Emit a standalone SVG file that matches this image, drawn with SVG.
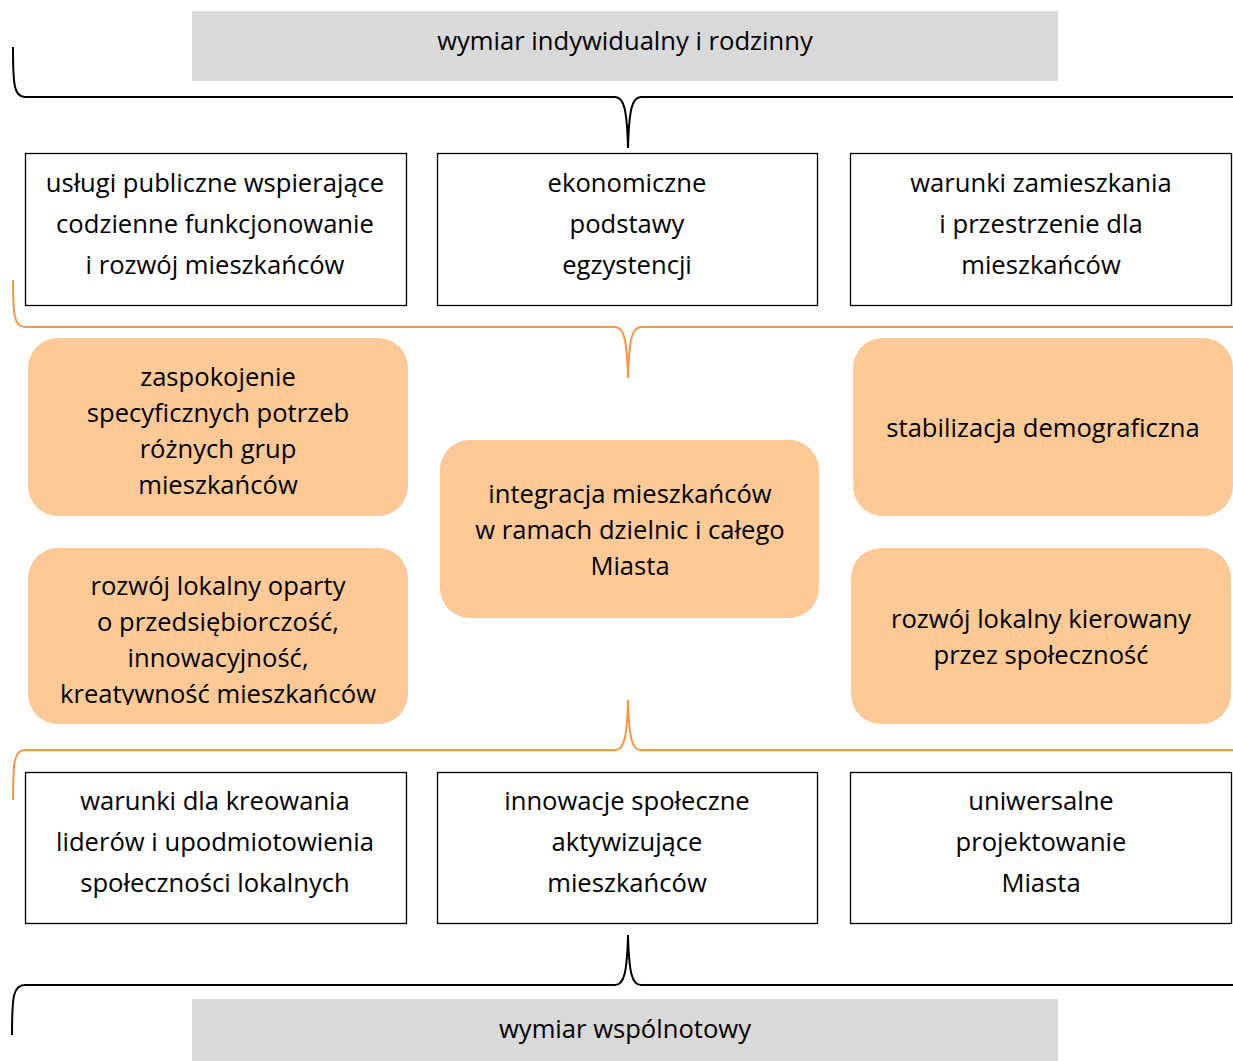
<svg xmlns="http://www.w3.org/2000/svg" width="1233" height="1061" viewBox="0 0 1233 1061">
<style>
.t{font-family:"Open Sans","Liberation Sans",Arial,sans-serif;font-size:25.6px;fill:#000;text-anchor:middle}
.box{fill:#fff;stroke:#000;stroke-width:1.3}
.gray{fill:#d9d9d9}
.org{fill:#fdca97}
.bk{fill:none;stroke:#000;stroke-width:2}
.bo{fill:none;stroke:#f79646;stroke-width:2}
</style>
<defs>
<clipPath id="clipB"><rect x="28" y="548" width="380" height="157"/></clipPath>
</defs>
<g id="connectors">
<path class="bk" d="M13,47 C13,85 14,97 25,97 L615,97 C624,97 627,110 628,148 C629,110 632,97 641,97 L1233,97"/>
<path class="bo" d="M13,280 C13,315 14,327 25,327 L615,327 C624,327 627,340 628,378 C629,340 632,327 641,327 L1233,327"/>
<path class="bo" d="M13,800 C13,762 14,750 25,750 L615,750 C624,750 627,738 628,700 C629,738 632,750 641,750 L1233,750"/>
<path class="bk" d="M12,1035 C12,997 13,985 25,985 L615,985 C624,985 627,973 628,935 C629,973 632,985 641,985 L1233,985"/>
</g>
<g id="top-dim">
<rect class="gray" x="192" y="11" width="866" height="70"/>
<text class="t" x="625" y="50">wymiar indywidualny i rodzinny</text>
</g>
<g id="box-uslugi">
<rect class="box" x="25.5" y="153.5" width="381" height="152"/>
<text class="t" x="215" y="192">usługi publiczne wspierające</text>
<text class="t" x="215" y="233">codzienne funkcjonowanie</text>
<text class="t" x="215" y="274">i rozwój mieszkańców</text>
</g>
<g id="box-ekonomiczne">
<rect class="box" x="437.5" y="153.5" width="380" height="152"/>
<text class="t" x="627" y="192">ekonomiczne</text>
<text class="t" x="627" y="233">podstawy</text>
<text class="t" x="627" y="274">egzystencji</text>
</g>
<g id="box-warunki-zam">
<rect class="box" x="850.5" y="153.5" width="381" height="152"/>
<text class="t" x="1041" y="192">warunki zamieszkania</text>
<text class="t" x="1041" y="233">i przestrzenie dla</text>
<text class="t" x="1041" y="274">mieszkańców</text>
</g>
<g id="node-zaspokojenie">
<rect class="org" x="28" y="338" width="380" height="178" rx="30"/>
<text class="t" x="218" y="386">zaspokojenie</text>
<text class="t" x="218" y="422">specyficznych potrzeb</text>
<text class="t" x="218" y="458">różnych grup</text>
<text class="t" x="218" y="494">mieszkańców</text>
</g>
<g id="node-rozwoj-przeds">
<rect class="org" x="28" y="548" width="380" height="176" rx="30"/>
<g clip-path="url(#clipB)">
<text class="t" x="218" y="595">rozwój lokalny oparty</text>
<text class="t" x="218" y="631">o przedsiębiorczość,</text>
<text class="t" x="218" y="667">innowacyjność,</text>
<text class="t" x="218" y="703">kreatywność mieszkańców</text>
</g>
</g>
<g id="node-integracja">
<rect class="org" x="440" y="440" width="379" height="178" rx="30"/>
<text class="t" x="630" y="503">integracja mieszkańców</text>
<text class="t" x="630" y="539">w ramach dzielnic i całego</text>
<text class="t" x="630" y="575">Miasta</text>
</g>
<g id="node-stabilizacja">
<rect class="org" x="853" y="338" width="380" height="178" rx="30"/>
<text class="t" x="1043" y="437">stabilizacja demograficzna</text>
</g>
<g id="node-rozwoj-spol">
<rect class="org" x="851" y="548" width="380" height="176" rx="30"/>
<text class="t" x="1041" y="628">rozwój lokalny kierowany</text>
<text class="t" x="1041" y="664">przez społeczność</text>
</g>
<g id="box-liderzy">
<rect class="box" x="25.5" y="772.5" width="381" height="151"/>
<text class="t" x="215" y="810">warunki dla kreowania</text>
<text class="t" x="215" y="851">liderów i upodmiotowienia</text>
<text class="t" x="215" y="892">społeczności lokalnych</text>
</g>
<g id="box-innowacje">
<rect class="box" x="437.5" y="772.5" width="380" height="151"/>
<text class="t" x="627" y="810">innowacje społeczne</text>
<text class="t" x="627" y="851">aktywizujące</text>
<text class="t" x="627" y="892">mieszkańców</text>
</g>
<g id="box-uniwersalne">
<rect class="box" x="850.5" y="772.5" width="381" height="151"/>
<text class="t" x="1041" y="810">uniwersalne</text>
<text class="t" x="1041" y="851">projektowanie</text>
<text class="t" x="1041" y="892">Miasta</text>
</g>
<g id="bottom-dim">
<rect class="gray" x="192" y="999" width="866" height="62"/>
<text class="t" x="625" y="1038">wymiar wspólnotowy</text>
</g>
</svg>
